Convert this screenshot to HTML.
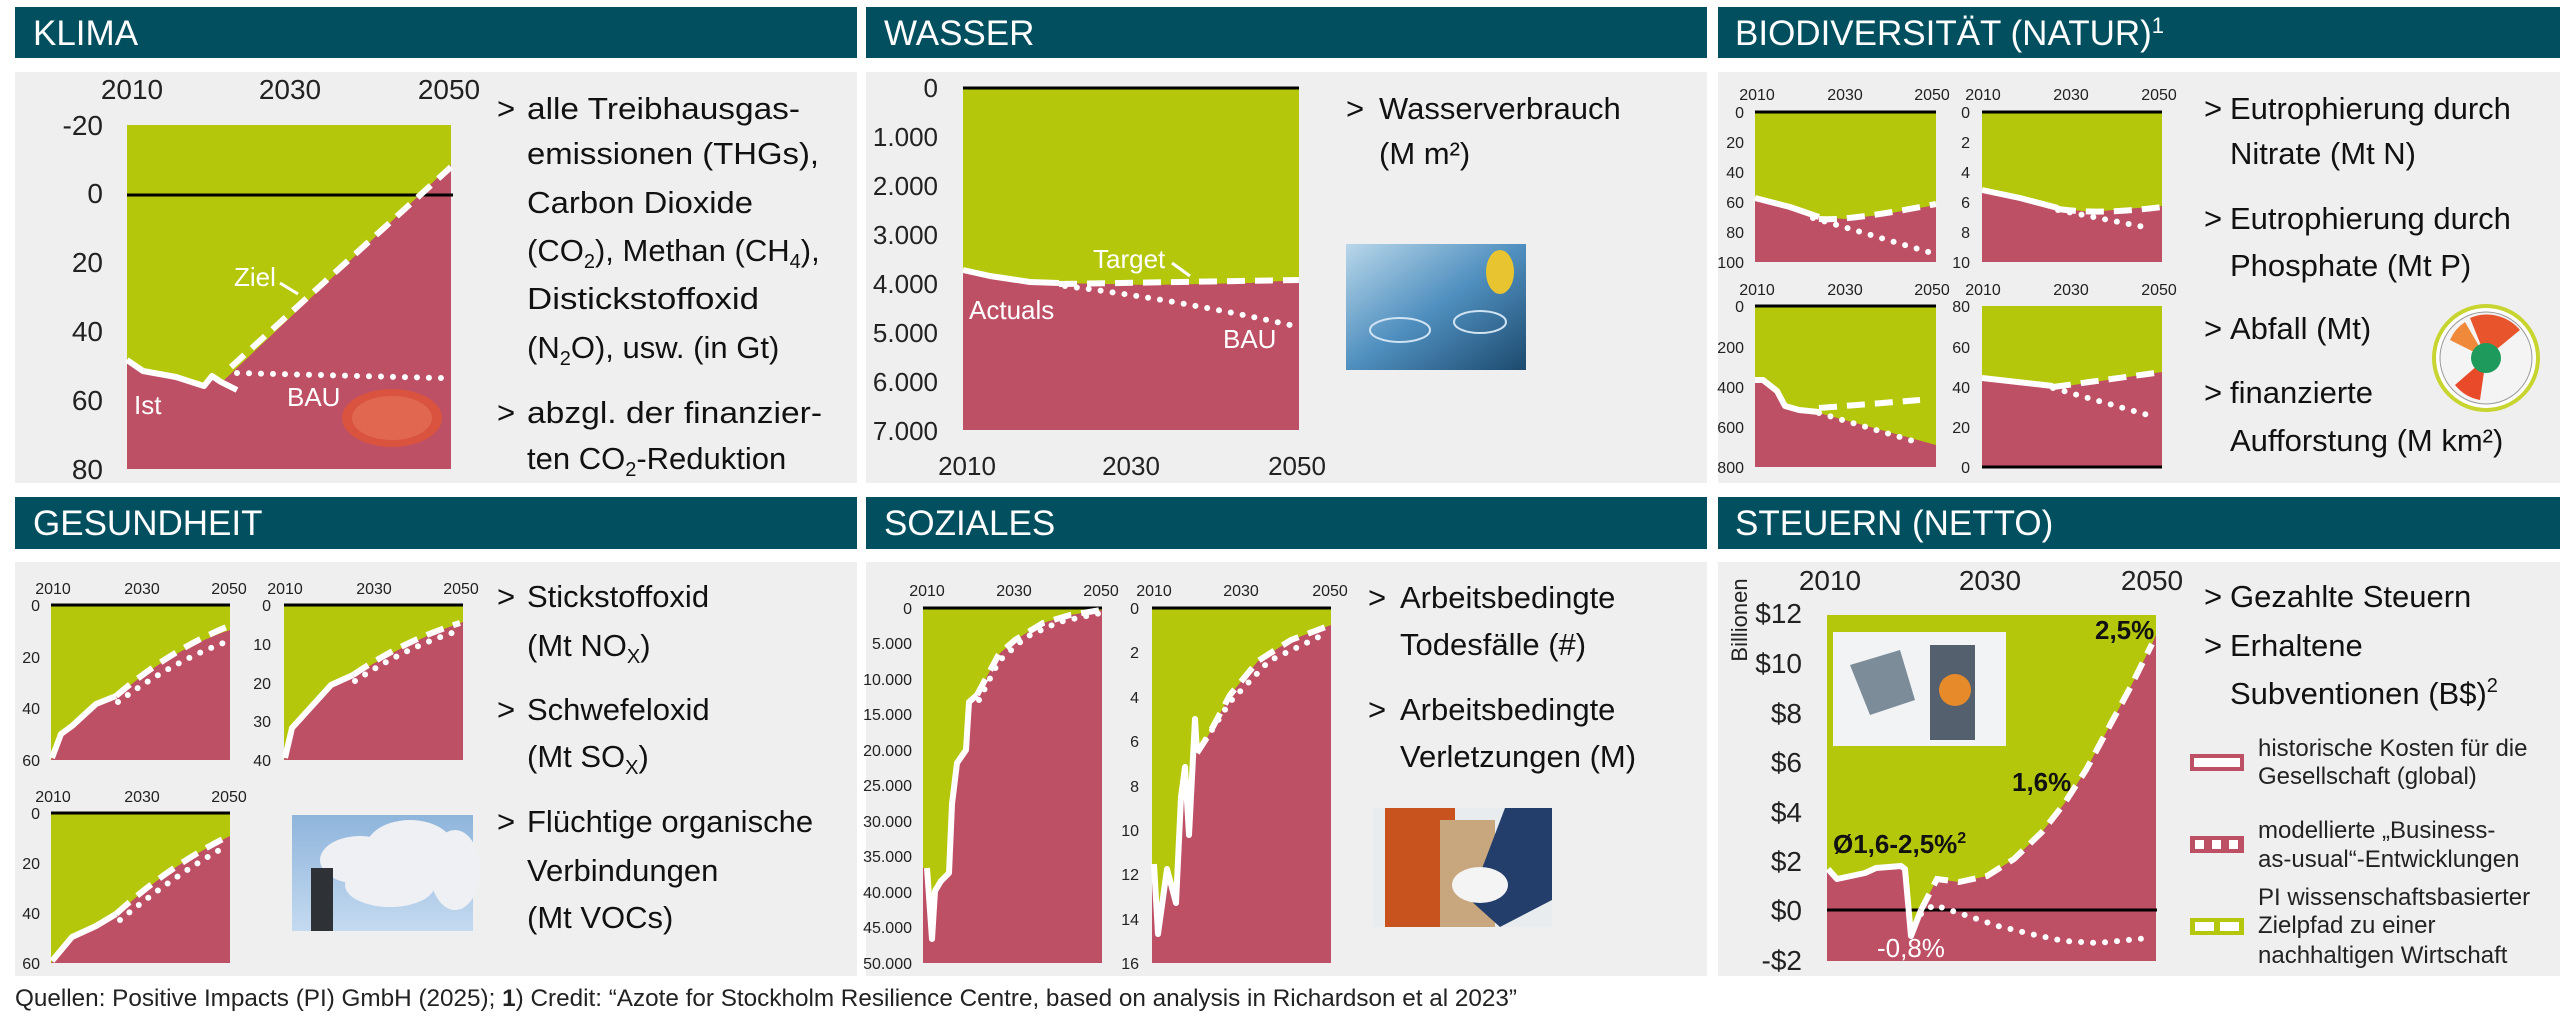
<!DOCTYPE html>
<html><head><meta charset="utf-8"><style>
html,body{margin:0;padding:0;background:#fff}
svg{display:block}
text{font-family:"Liberation Sans Narrow","Liberation Sans",sans-serif}
.h{fill:#fff;font-size:35px}
.t{font-size:31px;fill:#111}
.k{font-size:28px;fill:#222}
.s{font-size:16px;fill:#222}
.m{font-size:26px;fill:#222}
.w{fill:#fff;font-size:26px}
.g{fill:#b5c70a}
.r{fill:#be5066}
.al{fill:none;stroke:#fff;stroke-width:6;stroke-linejoin:round}
.da{fill:none;stroke:#fff;stroke-width:6;stroke-dasharray:18 10}
.bo{fill:none;stroke:#fff;stroke-width:6;stroke-dasharray:0 12;stroke-linecap:round}
.z{stroke:#000;stroke-width:3}
</style></head><body>
<svg width="2560" height="1023" viewBox="0 0 2560 1023" xmlns="http://www.w3.org/2000/svg">
<rect width="2560" height="1023" fill="#fff"/>
<!-- headers -->
<g fill="#02505f">
<rect x="15" y="7" width="842" height="51"/><rect x="866" y="7" width="841" height="51"/><rect x="1718" y="7" width="842" height="51"/>
<rect x="15" y="497" width="842" height="52"/><rect x="866" y="497" width="841" height="52"/><rect x="1718" y="497" width="842" height="52"/>
</g>
<g fill="#efefef">
<rect x="15" y="72" width="842" height="411"/><rect x="866" y="72" width="841" height="411"/><rect x="1718" y="72" width="842" height="411"/>
<rect x="15" y="562" width="842" height="414"/><rect x="866" y="562" width="841" height="414"/><rect x="1718" y="562" width="842" height="414"/>
</g>
<text class="h" x="33" y="45">KLIMA</text>
<text class="h" x="884" y="45">WASSER</text>
<text class="h" x="1735" y="45">BIODIVERSITÄT (NATUR)<tspan font-size="22" dy="-12">1</tspan></text>
<text class="h" x="33" y="535">GESUNDHEIT</text>
<text class="h" x="884" y="535">SOZIALES</text>
<text class="h" x="1735" y="535">STEUERN (NETTO)</text>

<!-- KLIMA chart -->
<rect class="g" x="127" y="125" width="324" height="344"/>
<path class="r" d="M127,363 L143,372 L176,378 L204,387 L212,377 L221,383 L451,165 L451,469 L127,469 Z"/>
<line class="z" x1="127" y1="195" x2="453" y2="195"/>
<polyline class="al" points="127,360 143,371 176,377 204,386 212,376 221,382 237,390"/>
<path class="da" d="M231,367 L451,167"/>
<path class="bo" d="M237,373 L441,378"/>
<line x1="280" y1="283" x2="298" y2="294" stroke="#fff" stroke-width="3"/>
<text class="w" x="234" y="286">Ziel</text>
<text class="w" x="134" y="414">Ist</text>
<text class="w" x="287" y="406">BAU</text>
<ellipse cx="392" cy="418" rx="50" ry="29" fill="#d9533f"/>
<ellipse cx="392" cy="418" rx="40" ry="22" fill="#e6705a" opacity=".7"/>
<g class="k" text-anchor="middle"><text x="132" y="99">2010</text><text x="290" y="99">2030</text><text x="449" y="99">2050</text></g>
<g class="k" text-anchor="end"><text x="103" y="135">-20</text><text x="103" y="203">0</text><text x="103" y="272">20</text><text x="103" y="341">40</text><text x="103" y="410">60</text><text x="103" y="479">80</text></g>
<g class="t"><text x="497" y="119">&gt;</text>
<text x="527" y="119" textLength="273" lengthAdjust="spacingAndGlyphs">alle Treibhausgas-</text>
<text x="527" y="164" textLength="292" lengthAdjust="spacingAndGlyphs">emissionen (THGs),</text>
<text x="527" y="213" textLength="226" lengthAdjust="spacingAndGlyphs">Carbon Dioxide</text>
<text x="527" y="261">(CO<tspan font-size="20" dy="7">2</tspan><tspan dy="-7">), Methan (CH</tspan><tspan font-size="20" dy="7">4</tspan><tspan dy="-7">),</tspan></text>
<text x="527" y="309" textLength="232" lengthAdjust="spacingAndGlyphs">Distickstoffoxid</text>
<text x="527" y="358">(N<tspan font-size="20" dy="7">2</tspan><tspan dy="-7">O), usw. (in Gt)</tspan></text>
<text x="497" y="423">&gt;</text>
<text x="527" y="423" textLength="295" lengthAdjust="spacingAndGlyphs">abzgl. der finanzier-</text>
<text x="527" y="469">ten CO<tspan font-size="20" dy="7">2</tspan><tspan dy="-7">-Reduktion</tspan></text></g>

<!-- WASSER -->
<rect class="g" x="963" y="87" width="336" height="343"/>
<path class="r" d="M963,271 L990,277 L1030,282 L1059,283 L1150,285 L1250,283 L1299,280 L1299,430 L963,430 Z"/>
<line class="z" x1="963" y1="88" x2="1299" y2="88"/>
<polyline class="al" points="963,270 990,276 1030,282 1059,283"/>
<path class="da" d="M1059,284 L1299,280"/>
<path class="bo" d="M1065,286 Q1180,300 1299,327"/>
<line x1="1172" y1="263" x2="1190" y2="276" stroke="#fff" stroke-width="3"/>
<text class="w" x="1093" y="268">Target</text>
<text class="w" x="969" y="319">Actuals</text>
<text class="w" x="1223" y="348">BAU</text>
<g class="m" text-anchor="end"><text x="938" y="97">0</text><text x="938" y="146">1.000</text><text x="938" y="195">2.000</text><text x="938" y="244">3.000</text><text x="938" y="293">4.000</text><text x="938" y="342">5.000</text><text x="938" y="391">6.000</text><text x="938" y="440">7.000</text></g>
<g class="m" text-anchor="middle" font-size="27"><text x="967" y="475">2010</text><text x="1131" y="475">2030</text><text x="1297" y="475">2050</text></g>
<defs>
<linearGradient id="wat" x1="0" y1="0" x2="1" y2="1"><stop offset="0" stop-color="#b9d7ea"/><stop offset=".5" stop-color="#4f8fbf"/><stop offset="1" stop-color="#1d4a6e"/></linearGradient>
<linearGradient id="sky" x1="0" y1="0" x2="0" y2="1"><stop offset="0" stop-color="#8fb5dc"/><stop offset="1" stop-color="#c4daf0"/></linearGradient>
</defs>
<rect x="1346" y="244" width="180" height="126" fill="url(#wat)"/>
<ellipse cx="1500" cy="272" rx="14" ry="22" fill="#e8c430"/>
<ellipse cx="1400" cy="330" rx="30" ry="12" fill="none" stroke="#cfe3f2" stroke-width="2"/>
<ellipse cx="1480" cy="322" rx="26" ry="11" fill="none" stroke="#cfe3f2" stroke-width="2"/>
<g class="t"><text x="1346" y="119">&gt;</text><text x="1379" y="119">Wasserverbrauch</text><text x="1379" y="164">(M m²)</text></g>

<!-- BIODIV charts -->
<rect class="g" x="1755" y="112" width="181" height="150"/>
<path class="r" d="M1755,200 L1790,208 L1819,217 L1845,219 L1880,215 L1936,205 L1936,262 L1755,262Z"/>
<line class="z" x1="1755" y1="112" x2="1936" y2="112"/>
<polyline class="al" points="1755,198 1790,207 1819,217"/>
<path class="da" d="M1819,219 Q1850,221 1936,204"/>
<path class="bo" d="M1813,218 L1932,253"/>
<rect class="g" x="1982" y="112" width="180" height="150"/>
<path class="r" d="M1982,192 L2020,199 L2058,208 L2090,212 L2162,206 L2162,262 L1982,262Z"/>
<line class="z" x1="1982" y1="112" x2="2162" y2="112"/>
<polyline class="al" points="1982,190 2020,198 2058,208"/>
<path class="da" d="M2058,209 Q2100,215 2162,207"/>
<path class="bo" d="M2058,210 L2149,228"/>
<rect class="g" x="1755" y="306" width="181" height="161"/>
<path class="r" d="M1755,383 L1763,383 L1777,393 L1785,408 L1799,412 L1819,413 L1936,445 L1936,467 L1755,467Z"/>
<line class="z" x1="1755" y1="306" x2="1936" y2="306"/>
<polyline class="al" points="1755,380 1763,380 1777,391 1785,406 1799,410 1819,412"/>
<path class="da" d="M1819,408 L1920,400"/>
<path class="bo" d="M1819,413 L1920,443"/>
<rect class="g" x="1982" y="306" width="180" height="161"/>
<path class="r" d="M1982,381 L2053,388 L2162,372 L2162,467 L1982,467Z"/>
<line class="z" x1="1982" y1="467" x2="2162" y2="467"/>
<polyline class="al" points="1982,378 2053,386"/>
<path class="da" d="M2053,387 L2162,372"/>
<path class="bo" d="M2053,388 L2155,417"/>
<g class="s" text-anchor="middle"><text x="1757" y="100">2010</text><text x="1845" y="100">2030</text><text x="1932" y="100">2050</text><text x="1983" y="100">2010</text><text x="2071" y="100">2030</text><text x="2159" y="100">2050</text>
<text x="1757" y="295">2010</text><text x="1845" y="295">2030</text><text x="1932" y="295">2050</text><text x="1983" y="295">2010</text><text x="2071" y="295">2030</text><text x="2159" y="295">2050</text></g>
<g class="s" text-anchor="end"><text x="1744" y="118">0</text><text x="1744" y="148">20</text><text x="1744" y="178">40</text><text x="1744" y="208">60</text><text x="1744" y="238">80</text><text x="1744" y="268">100</text>
<text x="1970" y="118">0</text><text x="1970" y="148">2</text><text x="1970" y="178">4</text><text x="1970" y="208">6</text><text x="1970" y="238">8</text><text x="1970" y="268">10</text>
<text x="1744" y="312">0</text><text x="1744" y="353">200</text><text x="1744" y="393">400</text><text x="1744" y="433">600</text><text x="1744" y="473">800</text>
<text x="1970" y="312">80</text><text x="1970" y="353">60</text><text x="1970" y="393">40</text><text x="1970" y="433">20</text><text x="1970" y="473">0</text></g>
<g class="t"><text x="2204" y="119">&gt;</text><text x="2230" y="119">Eutrophierung durch</text><text x="2230" y="164">Nitrate (Mt N)</text>
<text x="2204" y="229">&gt;</text><text x="2230" y="229">Eutrophierung durch</text><text x="2230" y="276">Phosphate (Mt P)</text>
<text x="2204" y="339">&gt;</text><text x="2230" y="339">Abfall (Mt)</text>
<text x="2204" y="403">&gt;</text><text x="2230" y="403">finanzierte</text><text x="2230" y="451">Aufforstung (M km²)</text></g>
<circle cx="2486" cy="358" r="52" fill="#fff" stroke="#c8d430" stroke-width="4"/>
<circle cx="2486" cy="358" r="46" fill="#f4f4f4" stroke="#999" stroke-width="1"/>
<path d="M2486,358 L2470,318 A43,43 0 0 1 2520,330 Z" fill="#e8552c"/>
<path d="M2486,358 L2450,340 A40,40 0 0 1 2465,322 Z" fill="#f08a3a"/>
<path d="M2486,358 L2480,400 A42,42 0 0 1 2455,385 Z" fill="#e84a2a"/>
<circle cx="2486" cy="358" r="15" fill="#1e9b5c"/>

<!-- GESUNDHEIT -->
<rect class="g" x="51" y="605" width="179" height="155"/>
<path class="r" d="M51,760 L61,736 L72,727 L96,705 L116,697 Q170,650 230,630 L230,760Z"/>
<line class="z" x1="51" y1="605" x2="230" y2="605"/>
<polyline class="al" points="52,758 61,734 72,726 96,704 116,696"/>
<path class="da" d="M116,696 Q170,650 229,626"/>
<path class="bo" d="M118,702 Q175,660 229,641"/>
<rect class="g" x="284" y="605" width="179" height="155"/>
<path class="r" d="M284,760 L292,729 L331,686 L353,676 Q410,640 463,622 L463,760Z"/>
<line class="z" x1="284" y1="605" x2="463" y2="605"/>
<polyline class="al" points="285,758 292,728 331,685 353,675"/>
<path class="da" d="M353,675 Q405,640 460,623"/>
<path class="bo" d="M355,681 Q405,648 455,632"/>
<rect class="g" x="51" y="813" width="179" height="150"/>
<path class="r" d="M51,963 L72,938 L96,927 L116,915 Q170,865 230,836 L230,963Z"/>
<line class="z" x1="51" y1="813" x2="230" y2="813"/>
<polyline class="al" points="52,961 72,937 96,926 116,914"/>
<path class="da" d="M116,914 Q170,865 229,836"/>
<path class="bo" d="M120,920 Q175,875 223,848"/>
<g class="s" text-anchor="middle"><text x="53" y="594">2010</text><text x="142" y="594">2030</text><text x="229" y="594">2050</text><text x="285" y="594">2010</text><text x="374" y="594">2030</text><text x="461" y="594">2050</text>
<text x="53" y="802">2010</text><text x="142" y="802">2030</text><text x="229" y="802">2050</text></g>
<g class="s" text-anchor="end"><text x="40" y="611">0</text><text x="40" y="663">20</text><text x="40" y="714">40</text><text x="40" y="766">60</text>
<text x="271" y="611">0</text><text x="271" y="650">10</text><text x="271" y="689">20</text><text x="271" y="727">30</text><text x="271" y="766">40</text>
<text x="40" y="819">0</text><text x="40" y="869">20</text><text x="40" y="919">40</text><text x="40" y="969">60</text></g>
<rect x="292" y="815" width="181" height="116" fill="url(#sky)"/>
<g fill="#eef0f3"><ellipse cx="360" cy="860" rx="40" ry="24"/><ellipse cx="410" cy="850" rx="45" ry="30"/><ellipse cx="455" cy="870" rx="25" ry="40"/><ellipse cx="390" cy="885" rx="45" ry="22"/></g>
<rect x="311" y="868" width="22" height="63" fill="#2e3236"/>
<g class="t"><text x="497" y="607">&gt;</text><text x="527" y="607">Stickstoffoxid</text><text x="527" y="656">(Mt NO<tspan font-size="20" dy="7">X</tspan><tspan dy="-7">)</tspan></text>
<text x="497" y="720">&gt;</text><text x="527" y="720">Schwefeloxid</text><text x="527" y="767">(Mt SO<tspan font-size="20" dy="7">X</tspan><tspan dy="-7">)</tspan></text>
<text x="497" y="832">&gt;</text><text x="527" y="832">Flüchtige organische</text><text x="527" y="881">Verbindungen</text><text x="527" y="928">(Mt VOCs)</text></g>

<!-- SOZIALES -->
<rect class="g" x="923" y="608" width="179" height="355"/>
<path class="r" d="M923,963 L923,868 L927,868 L932,939 L935,891 L941,881 L949,873 L952,804 L957,763 L966,750 L969,702 L977,695 L999,654 L1015,640 L1043,623 L1070,615 L1102,610 L1102,963 Z"/>
<line class="z" x1="923" y1="608" x2="1102" y2="608"/>
<polyline class="al" points="927,868 932,939 935,891 941,881 949,873 952,804 957,763 966,750 969,702 977,695"/>
<path class="da" d="M977,695 L999,654 L1015,640 L1043,623 L1070,615 L1101,610"/>
<path class="bo" d="M979,700 L999,661 L1026,637 L1059,622 L1101,613"/>
<rect class="g" x="1152" y="608" width="179" height="355"/>
<path class="r" d="M1152,963 L1152,864 L1154,864 L1158,934 L1167,869 L1176,903 L1181,797 L1185,767 L1189,835 L1195,719 L1197,753 L1208,736 L1230,695 L1258,661 L1291,640 L1331,625 L1331,963 Z"/>
<line class="z" x1="1152" y1="608" x2="1331" y2="608"/>
<polyline class="al" points="1154,864 1158,934 1167,869 1176,903 1181,797 1185,767 1189,835 1195,719 1197,753"/>
<path class="da" d="M1197,753 L1208,736 L1230,695 L1258,661 L1291,640 L1331,625"/>
<path class="bo" d="M1199,750 L1230,702 L1269,661 L1327,633"/>
<g class="s" text-anchor="middle"><text x="927" y="596">2010</text><text x="1014" y="596">2030</text><text x="1101" y="596">2050</text><text x="1154" y="596">2010</text><text x="1241" y="596">2030</text><text x="1330" y="596">2050</text></g>
<g class="s" text-anchor="end"><text x="912" y="614">0</text><text x="912" y="649">5.000</text><text x="912" y="685">10.000</text><text x="912" y="720">15.000</text><text x="912" y="756">20.000</text><text x="912" y="791">25.000</text><text x="912" y="827">30.000</text><text x="912" y="862">35.000</text><text x="912" y="898">40.000</text><text x="912" y="933">45.000</text><text x="912" y="969">50.000</text>
<text x="1139" y="614">0</text><text x="1139" y="658">2</text><text x="1139" y="703">4</text><text x="1139" y="747">6</text><text x="1139" y="792">8</text><text x="1139" y="836">10</text><text x="1139" y="880">12</text><text x="1139" y="925">14</text><text x="1139" y="969">16</text></g>
<rect x="1373" y="808" width="179" height="119" fill="#e9ecee"/>
<rect x="1385" y="808" width="70" height="119" fill="#c9531f"/>
<rect x="1440" y="820" width="55" height="107" fill="#c9a77e"/>
<path d="M1505,808 L1552,808 L1552,900 L1500,927 L1470,900 Z" fill="#243e6b"/>
<ellipse cx="1480" cy="885" rx="28" ry="18" fill="#f4f4f4"/>
<g class="t"><text x="1368" y="608">&gt;</text><text x="1400" y="608">Arbeitsbedingte</text><text x="1400" y="655">Todesfälle (#)</text>
<text x="1368" y="720">&gt;</text><text x="1400" y="720">Arbeitsbedingte</text><text x="1400" y="767">Verletzungen (M)</text></g>

<!-- STEUERN -->
<rect class="g" x="1827" y="615" width="329" height="346"/>
<path class="r" d="M1827,961 L1827,869 L1837,879 L1865,873 L1876,868 L1901,866 L1905,869 L1911,936 L1921,910 L1937,879 L1959,882 L1987,876 L2014,859 L2042,832 L2064,804 L2086,770 L2108,729 L2130,688 L2152,644 L2156,635 L2156,961 Z"/>
<line class="z" x1="1827" y1="910" x2="2157" y2="910"/>
<polyline class="al" points="1828,869 1837,879 1865,873 1876,868 1901,866 1905,869 1911,936 1921,910"/>
<path class="da" d="M1921,910 L1937,879 L1959,882 L1987,876 L2014,859 L2042,832 L2064,804 L2086,770 L2108,729 L2130,688 L2152,644"/>
<path class="bo" d="M1921,914 L1934,905 L1965,915 L1998,926 L2031,934 L2064,941 L2097,943 L2149,938"/>
<rect x="1833" y="632" width="173" height="114" fill="#f2f3f5"/>
<path d="M1850,665 L1900,650 L1915,700 L1870,715 Z" fill="#7d8c99"/>
<rect x="1930" y="645" width="45" height="95" fill="#55606e"/>
<circle cx="1955" cy="690" r="16" fill="#e68a2a"/>
<g font-size="26" font-weight="bold"><text x="2095" y="639" fill="#111">2,5%</text><text x="2012" y="791" fill="#111">1,6%</text>
<text x="1833" y="853" fill="#111">Ø1,6-2,5%<tspan font-size="16" dy="-10">2</tspan></text><text x="1877" y="957" fill="#fff" font-weight="normal">-0,8%</text></g>
<text transform="translate(1747,620) rotate(-90)" text-anchor="middle" font-size="22" fill="#222" style="font-family:'Liberation Sans',sans-serif">Billionen</text>
<g class="k" text-anchor="end"><text x="1802" y="623">$12</text><text x="1802" y="673">$10</text><text x="1802" y="723">$8</text><text x="1802" y="772">$6</text><text x="1802" y="822">$4</text><text x="1802" y="871">$2</text><text x="1802" y="920">$0</text><text x="1802" y="970">-$2</text></g>
<g class="k" text-anchor="middle"><text x="1830" y="590">2010</text><text x="1990" y="590">2030</text><text x="2152" y="590">2050</text></g>
<g class="t"><text x="2204" y="607">&gt;</text><text x="2230" y="607">Gezahlte Steuern</text>
<text x="2204" y="656">&gt;</text><text x="2230" y="656">Erhaltene</text><text x="2230" y="704">Subventionen (B$)<tspan font-size="20" dy="-12">2</tspan></text></g>
<rect x="2192" y="756" width="50" height="13" fill="#fff" stroke="#be5066" stroke-width="4"/>
<rect x="2190" y="836" width="54" height="17" fill="#be5066"/>
<g fill="#fff"><rect x="2195" y="840" width="9" height="9"/><rect x="2212" y="840" width="9" height="9"/><rect x="2229" y="840" width="9" height="9"/></g>
<rect x="2190" y="918" width="54" height="17" fill="#b5c70a"/>
<g fill="#fff"><rect x="2195" y="922" width="19" height="9"/><rect x="2220" y="922" width="19" height="9"/></g>
<g font-size="24" fill="#222"><text x="2258" y="756">historische Kosten für die</text><text x="2258" y="784">Gesellschaft (global)</text>
<text x="2258" y="838">modellierte „Business-</text><text x="2258" y="867">as-usual“-Entwicklungen</text>
<text x="2258" y="905">PI wissenschaftsbasierter</text><text x="2258" y="933">Zielpfad zu einer</text><text x="2258" y="963">nachhaltigen Wirtschaft</text></g>

<text x="15" y="1006" font-size="24" fill="#222" textLength="1502" lengthAdjust="spacingAndGlyphs">Quellen: Positive Impacts (PI) GmbH (2025); <tspan font-weight="bold">1</tspan>) Credit: “Azote for Stockholm Resilience Centre, based on analysis in Richardson et al 2023”</text>
</svg>
</body></html>
